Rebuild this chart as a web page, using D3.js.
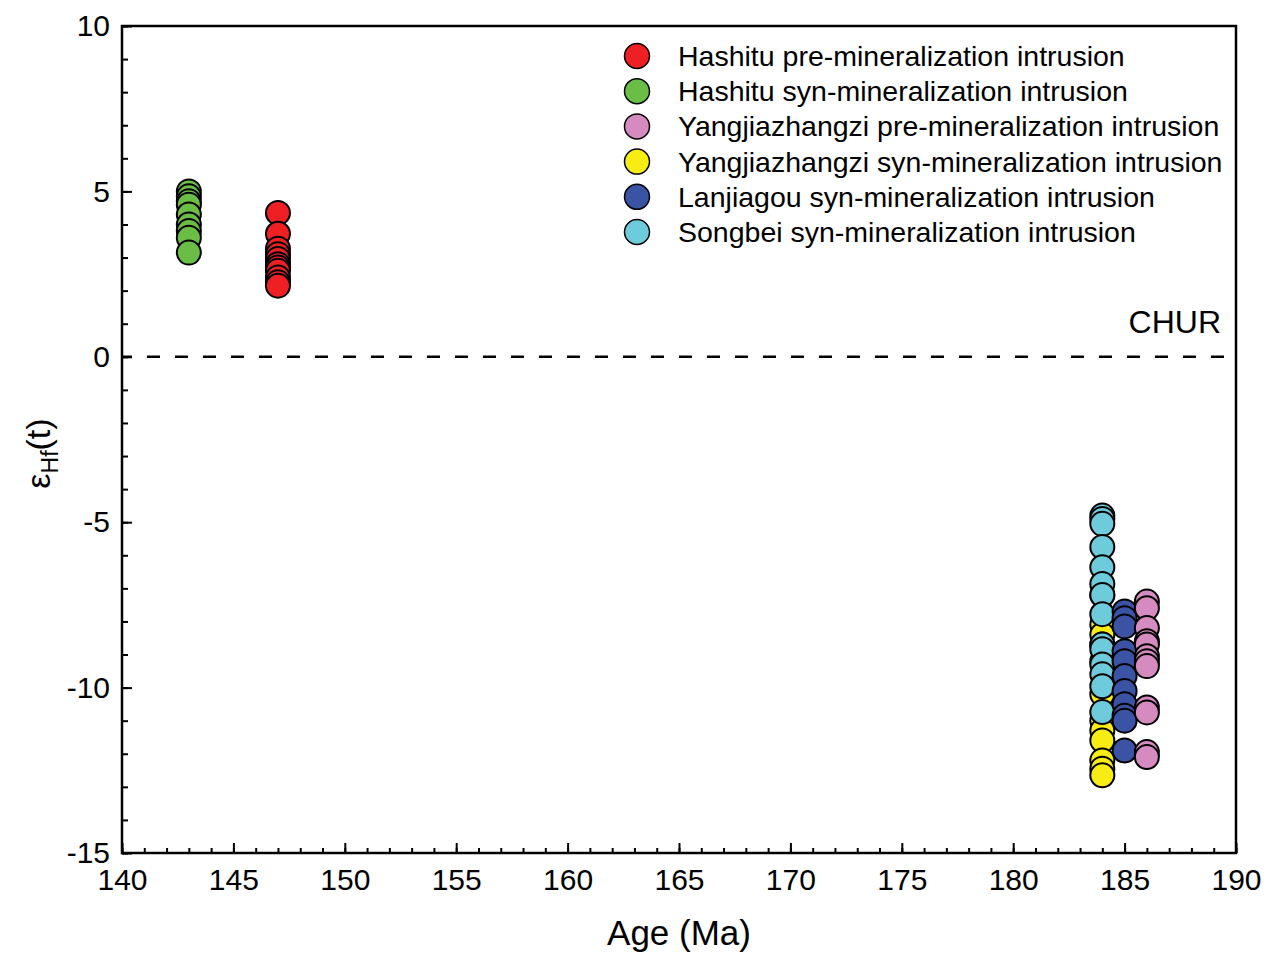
<!DOCTYPE html>
<html><head><meta charset="utf-8">
<script src="https://cdn.jsdelivr.net/npm/d3@7"></script>
<style>body{margin:0;background:#fff}svg{font-family:"Liberation Sans",Arial,sans-serif}</style>
</head><body><svg id="c" width="1270" height="957"></svg>
<script>
const seriesNames = ["Hashitu pre-mineralization intrusion","Hashitu syn-mineralization intrusion","Yangjiazhangzi pre-mineralization intrusion","Yangjiazhangzi syn-mineralization intrusion","Lanjiagou syn-mineralization intrusion","Songbei syn-mineralization intrusion"];
const seriesColors = ["#ee2024","#6abd45","#d58bbf","#f7ec13","#3a53a4","#6dcbdb"];
const seriesAges = [147,143,186,184,185,184];
const hashituPre = [4.35,3.72,3.27,3.1,2.96,2.8,2.7,2.6,2.4,2.25,2.15];
const hashituSyn = [5.0,4.85,4.7,4.6,4.3,4.0,3.8,3.6,3.15];
const yangPre = [-7.4,-7.6,-8.2,-8.6,-8.7,-9.05,-9.2,-9.35,-10.6,-10.75,-11.95,-12.1];
const yangSyn = [-7.2,-8.1,-8.4,-8.7,-9.2,-10.2,-11.0,-11.3,-11.6,-12.2,-12.45,-12.65];
const lanjiagou = [-7.7,-7.9,-8.15,-8.9,-9.2,-9.65,-10.1,-10.5,-10.85,-11.0,-11.9];
const songbei = [-4.8,-4.9,-5.05,-5.75,-6.36,-6.87,-7.2,-7.78,-8.7,-8.84,-9.3,-9.6,-9.96,-10.74];
const seriesValues = [hashituPre,hashituSyn,yangPre,yangSyn,lanjiagou,songbei];
const xTicks = [140,145,150,155,160,165,170,175,180,185,190];
const yTicks = [-15,-10,-5,0,5,10];
const drawOrder = [1,0,3,5,4,2];

const svg = d3.select("#c");
const L=122,R=1236,T=26,B=853;
const x = d3.scaleLinear().domain([140,190]).range([L,R]);
const y = d3.scaleLinear().domain([-15,10]).range([B,T]);
const fmt = d => String(d);

// CHUR line
svg.append("line").attr("x1",L).attr("x2",R).attr("y1",y(0)).attr("y2",y(0))
  .attr("stroke","#000").attr("stroke-width",2.5).attr("stroke-dasharray","13,15").attr("stroke-dashoffset",3);
svg.append("text").attr("x",1221).attr("y",y(0)-24).attr("text-anchor","end")
  .attr("font-size",32).text("CHUR");

// points
drawOrder.forEach(i=>{
  svg.append("g").selectAll("circle").data(seriesValues[i]).join("circle")
    .attr("cx",x(seriesAges[i])).attr("cy",d=>y(d)).attr("r",12)
    .attr("fill",seriesColors[i]).attr("stroke","#000").attr("stroke-width",2);
});

// axes
const xMinor = d3.range(140,191,1);
const yMinor = d3.range(-15,10.01,1);
const gx = svg.append("g").attr("transform",`translate(0,${B})`);
gx.call(d3.axisBottom(x).tickValues(xMinor).tickSize(-5).tickFormat(""));
gx.call(g=>g.select(".domain").remove());
gx.selectAll("line").attr("stroke-width",2);
const gx2 = svg.append("g").attr("transform",`translate(0,${B})`);
gx2.call(d3.axisBottom(x).tickValues(xTicks).tickSize(-10).tickPadding(16).tickFormat(fmt));
gx2.select(".domain").remove();
gx2.selectAll("line").attr("stroke-width",2);
gx2.selectAll("text").attr("font-size",30).attr("font-family","Liberation Sans, Arial, sans-serif").attr("fill","#000").attr("dy","0.71em");

const gy = svg.append("g").attr("transform",`translate(${L},0)`);
gy.call(d3.axisLeft(y).tickValues(yMinor).tickSize(-6).tickFormat(""));
gy.select(".domain").remove();
gy.selectAll("line").attr("stroke-width",2);
const gy2 = svg.append("g").attr("transform",`translate(${L},0)`);
gy2.call(d3.axisLeft(y).tickValues(yTicks).tickSize(-10).tickPadding(12).tickFormat(fmt));
gy2.select(".domain").remove();
gy2.selectAll("line").attr("stroke-width",2);
gy2.selectAll("text").attr("font-size",30).attr("font-family","Liberation Sans, Arial, sans-serif").attr("fill","#000");

// frame
svg.append("rect").attr("x",L).attr("y",T).attr("width",R-L).attr("height",B-T)
  .attr("fill","none").attr("stroke","#000").attr("stroke-width",2.5);

// axis titles
svg.append("text").attr("x",(L+R)/2).attr("y",945).attr("text-anchor","middle")
  .attr("font-size",35).text("Age (Ma)");
const yt = svg.append("text").attr("transform",`translate(50,${(T+B)/2+14}) rotate(-90)`)
  .attr("text-anchor","middle").attr("font-size",34);
yt.append("tspan").text("ε");
yt.append("tspan").attr("font-size",23).attr("dy",8).text("Hf");
yt.append("tspan").attr("dy",-8).text("(t)");

// legend
const lg = svg.append("g");
seriesNames.forEach((n,i)=>{
  const cy = 56 + i*35.2;
  lg.append("circle").attr("cx",637).attr("cy",cy).attr("r",12.5)
    .attr("fill",seriesColors[i]).attr("stroke","#000").attr("stroke-width",1.5);
  lg.append("text").attr("x",678).attr("y",cy).attr("dy","0.35em")
    .attr("font-size",28.5).text(n);
});
</script></body></html>
